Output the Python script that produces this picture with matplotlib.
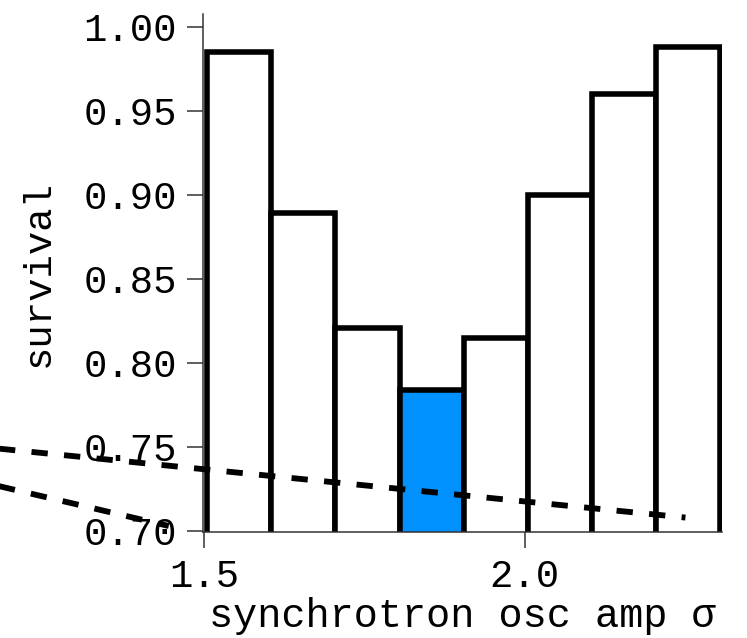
import matplotlib.pyplot as plt
import numpy as np

plt.rcParams['font.family'] = ['Liberation Mono', 'DejaVu Sans']

# histogram bins of synchrotron oscillation amplitude and survival per bin
bin_edges = [1.505, 1.605, 1.705, 1.805, 1.905, 2.005, 2.105, 2.205, 2.305]
survival = [0.985, 0.889, 0.821, 0.784, 0.815, 0.900, 0.960, 0.988]
highlight = 3

# two reference trend lines (x, y pairs)
trend_a_x = [1.10, 2.251]
trend_a_y = [0.7521, 0.7080]
trend_b_x = [1.10, 1.445]
trend_b_y = [0.7339, 0.7030]

fig = plt.figure(figsize=(7.47, 6.38), dpi=100)
ax = fig.add_axes([0.2718, 0.1661, 0.6947, 0.8119])

edges = np.array(bin_edges)
widths = np.diff(edges)
colors = ['white'] * len(survival)
colors[highlight] = '#0091ff'
ax.bar(edges[:-1], survival, width=widths, align='edge', bottom=0,
       color=colors, edgecolor='black', linewidth=4.0, zorder=2)

dash = (0, (2.8, 2.8))
ax.plot(trend_a_x, trend_a_y, color='black', lw=4.2, linestyle=dash,
        clip_on=False, zorder=3)
ax.plot(trend_b_x, trend_b_y, color='black', lw=4.2, linestyle=dash,
        clip_on=False, zorder=3)

ax.set_xlim(1.4985, 2.308)
ax.set_ylim(0.6994, 1.0077)
ax.set_xticks([1.5, 2.0])
ax.set_xticklabels(['1.5', '2.0'])
ax.set_yticks(np.arange(0.70, 1.001, 0.05))
ax.set_yticklabels(['%.2f' % v for v in np.arange(0.70, 1.001, 0.05)])

for side in ['top', 'right']:
    ax.spines[side].set_visible(False)
for side in ['left', 'bottom']:
    ax.spines[side].set_linewidth(1.1)
    ax.spines[side].set_color('#333333')
ax.tick_params(direction='out', length=11.5, width=1.1, color='#333333',
               labelsize=28)
ax.tick_params(axis='x', pad=8)
ax.tick_params(axis='y', pad=7.5)

ax.set_xlabel('synchrotron osc amp σ', fontsize=29, labelpad=1.5)
ax.set_ylabel('survival', fontsize=28, labelpad=19)

fig.savefig('out.png', dpi=100)
